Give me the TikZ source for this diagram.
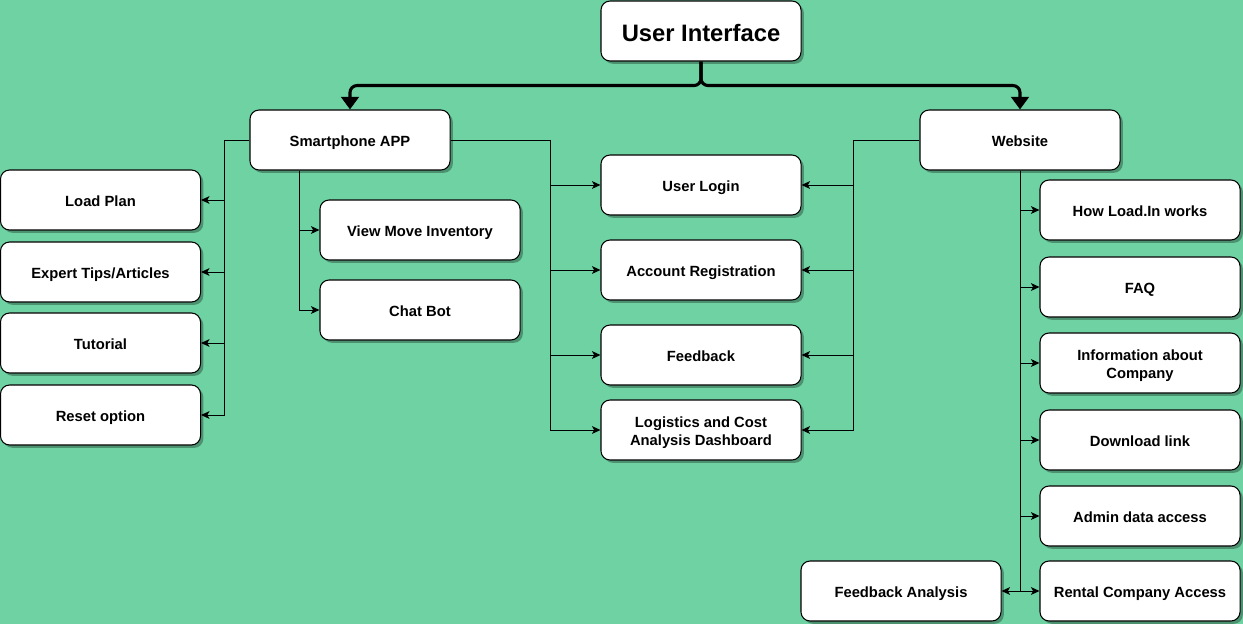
\documentclass[tikz,border=0pt]{standalone}
\usepackage{fontspec}
\setmainfont{Liberation Sans}
\usepackage{tikz}
\usetikzlibrary{calc}
\usetikzlibrary{arrows.meta}
\usetikzlibrary{shadows}
\definecolor{bggreen}{RGB}{110,210,163}
\tikzset{
	box/.style={draw, line width=0.75pt, fill=white, rounded corners=6.5pt, minimum width=5cm, minimum height=1.5cm, inner sep=0pt, align=center, text height=9.6pt, text depth=0pt, font=\bfseries\fontsize{10.5}{12.8}\selectfont, drop shadow={shadow xshift=2pt, shadow yshift=-2pt, fill=black, opacity=0.3}},
	twoline/.style={text height=22.4pt, text depth=0pt},
	arr/.style={-{Stealth[length=6pt, width=5.5pt, inset=1.5pt]}, line width=0.7pt},
	bigarr/.style={-{Triangle[length=9pt, width=12.5pt]}, line width=2.2pt, rounded corners=5pt}
}

\begin{document}
\begin{tikzpicture}[x=0.025cm, y=-0.025cm]
			\useasboundingbox (0,0) rectangle (1243,624);
			\fill[bggreen] (0,0) rectangle (1243,624);
			\node[box, text height=14.9pt, font=\bfseries\fontsize{16.9}{20}\selectfont] (ui) at (701,31) {User Interface};
			\node[box] (app) at (350,140) {Smartphone APP};
			\node[box] (web) at (1020,140) {Website};
			\node[box] (load) at (100.5,200) {Load Plan};
			\node[box] (tips) at (100.5,272) {Expert Tips/Articles};
			\node[box] (tut) at (100.5,343) {Tutorial};
			\node[box] (reset) at (100.5,415) {Reset option};
			\node[box] (inv) at (420,230) {View Move Inventory};
			\node[box] (chat) at (420,310) {Chat Bot};
			\node[box] (login) at (701,185) {User Login};
			\node[box] (reg) at (701,270) {Account Registration};
			\node[box] (fb) at (701,355) {Feedback};
			\node[box, twoline] (logi) at (701,430) {Logistics and Cost\\Analysis Dashboard};
			\node[box] (how) at (1140,210) {How Load.In works};
			\node[box] (faq) at (1140,287) {FAQ};
			\node[box, twoline] (info) at (1140,363) {Information about\\Company};
			\node[box] (dl) at (1140,440) {Download link};
			\node[box] (admin) at (1140,516) {Admin data access};
			\node[box] (rental) at (1140,591) {Rental Company Access};
			\node[box] (fba) at (901,591) {Feedback Analysis};
			\draw[bigarr] (ui.south) -- ++(0,24) -| (app.north);
			\draw[bigarr] (ui.south) -- ++(0,24) -| (web.north);
			\coordinate (lbus) at ($(app.west)+(-25,0)$);
			\coordinate (abus) at ($(app.south west)+(50,0)$);
			\coordinate (rbus) at ($(app.east)+(100,0)$);
			\coordinate (wbus) at ($(web.west)+(-66,0)$);
			\draw[line width=0.7pt] (app.west) -- (lbus);
			\draw[line width=0.7pt] (app.east) -- (rbus);
			\draw[line width=0.7pt] (web.west) -- (wbus);
			\foreach \n in {load, tips, tut, reset}{
				\draw[arr] (lbus) |- (\n.east);
			}
			\foreach \n in {inv, chat}{
				\draw[arr] (abus) |- (\n.west);
			}
			\foreach \n in {login, reg, fb, logi}{
				\draw[arr] (rbus) |- (\n.west);
				\draw[arr] (wbus) |- (\n.east);
			}
			\foreach \n in {how, faq, info, dl, admin, rental}{
				\draw[arr] (web.south) |- (\n.west);
			}
			\draw[arr] (web.south) |- (fba.east);
		\end{tikzpicture}
\end{document}
